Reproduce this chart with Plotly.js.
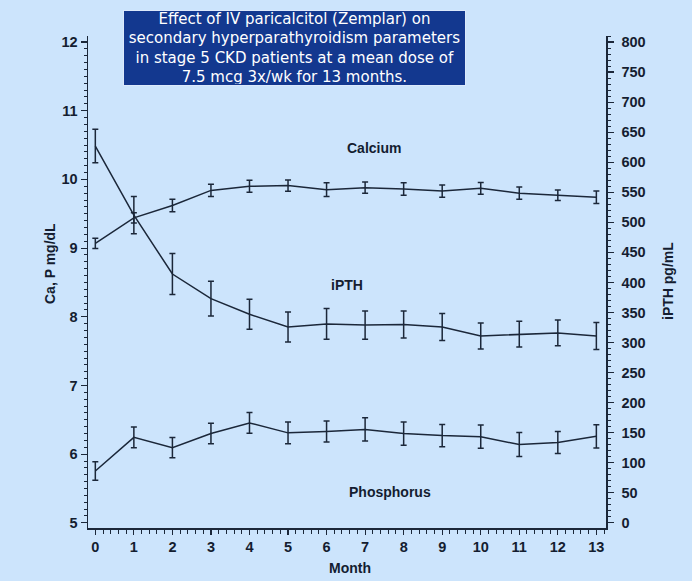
<!DOCTYPE html>
<html><head><meta charset="utf-8">
<script src="https://cdn.plot.ly/plotly-3.0.1.min.js"></script>
<style>html,body{margin:0;padding:0;background:#cce4fc;}</style>
</head><body><div id="chart" style="width:692px;height:581px;"></div>
<script>
const months = [0,1,2,3,4,5,6,7,8,9,10,11,12,13];
const calcium = [9.07, 9.44, 9.62, 9.84, 9.90, 9.91, 9.85, 9.88, 9.86, 9.83, 9.87, 9.80, 9.77, 9.74];
const calciumErr = [0.075, 0.075, 0.09, 0.09, 0.088, 0.083, 0.10, 0.083, 0.09, 0.09, 0.085, 0.09, 0.077, 0.092];
const ipth = [627, 512, 414, 373, 347, 326, 331, 329, 330, 326, 311, 314, 316, 311];
const ipthErr = [28, 31, 34, 29, 25, 25, 25.5, 23.6, 22.5, 22.5, 21.6, 21.6, 21.4, 22.5];
const phosphorus = [5.755, 6.245, 6.095, 6.30, 6.455, 6.31, 6.33, 6.36, 6.30, 6.27, 6.255, 6.14, 6.17, 6.26];
const phosphorusErr = [0.134, 0.15, 0.146, 0.15, 0.15, 0.158, 0.153, 0.17, 0.17, 0.163, 0.168, 0.175, 0.16, 0.17];
const titleLines = ["Effect of IV paricalcitol (Zemplar) on", "secondary hyperparathyroidism parameters", "in stage 5 CKD patients at a mean dose of", "7.5 mcg 3x/wk for 13 months."];
const seriesLabels = ["Calcium", "iPTH", "Phosphorus"];
const leftTitle = "Ca, P mg/dL";
const rightTitle = "iPTH pg/mL";
const xTitle = "Month";

const ink = '#1b2739';
const tickFont = {family: 'Liberation Sans, Arial, sans-serif', size: 14.5, color: '#141d30', weight: 'bold'};
const labelFont = {family: 'Liberation Sans, Arial, sans-serif', size: 14, color: '#141d30', weight: 'bold'};
const lineStyle = {color: ink, width: 1.5};
function err(arr){ return {type:'data', array: arr, visible: true, color: ink, thickness: 1.5, width: 3}; }

const traces = [
  {x: months, y: calcium, error_y: err(calciumErr), mode: 'lines', line: lineStyle, yaxis: 'y', name: seriesLabels[0]},
  {x: months, y: phosphorus, error_y: err(phosphorusErr), mode: 'lines', line: lineStyle, yaxis: 'y', name: seriesLabels[2]},
  {x: months, y: ipth, error_y: err(ipthErr), mode: 'lines', line: lineStyle, yaxis: 'y2', name: seriesLabels[1]}
];

const yLo = 4.925, yHi = 12.088;
const axisCommon = {showgrid: false, zeroline: false, showline: true, linecolor: ink, linewidth: 1.5,
  ticks: 'outside', tickcolor: ink, tickwidth: 1.2, tickfont: tickFont};

const layout = {
  width: 692, height: 581,
  paper_bgcolor: '#cce4fc', plot_bgcolor: '#cce4fc',
  margin: {l: 88, r: 86, t: 36, b: 53},
  showlegend: false,
  xaxis: Object.assign({}, axisCommon, {range: [-0.19, 13.25], tickmode: 'array', tickvals: months, ticktext: months.map(String), ticklen: 5,
    minor: {dtick: 0.2, tick0: 0, ticklen: 4, ticks: 'outside', tickcolor: ink, tickwidth: 1}}),
  yaxis: Object.assign({}, axisCommon, {range: [yLo, yHi], dtick: 1, tick0: 0, ticklen: 6,
    minor: {dtick: 0.1, tick0: 0, ticklen: 3, ticks: 'outside', tickcolor: ink, tickwidth: 1}}),
  yaxis2: Object.assign({}, axisCommon, {overlaying: 'y', side: 'right', range: [(yLo-5)*800/7, (yHi-5)*800/7], dtick: 50, tick0: 0, ticklen: 6, ticklabelstandoff: 5,
    minor: {dtick: 10, tick0: 0, ticklen: 3, ticks: 'outside', tickcolor: ink, tickwidth: 1}}),
  annotations: [
    {xref: 'paper', yref: 'paper', x: 0.3987, y: 0.9756, xanchor: 'center', yanchor: 'middle', showarrow: false,
     text: titleLines.join('<br>'), font: {family: 'DejaVu Sans, Verdana, sans-serif', size: 15, color: '#ffffff'},
     bgcolor: '#13388f', bordercolor: '#dce9fb', borderwidth: 1, borderpad: 1, width: 339, height: 72, align: 'center'},
    {xref: 'x', yref: 'y', x: 7.24, y: 10.456, text: seriesLabels[0], showarrow: false, font: labelFont},
    {xref: 'x', yref: 'y', x: 6.54, y: 8.46, text: seriesLabels[1], showarrow: false, font: labelFont},
    {xref: 'x', yref: 'y', x: 7.65, y: 5.445, text: seriesLabels[2], showarrow: false, font: labelFont},
    {xref: 'paper', yref: 'paper', x: (50-88)/518, y: (528-264)/492, text: leftTitle, textangle: -90, showarrow: false, font: labelFont, xanchor: 'center', yanchor: 'middle'},
    {xref: 'paper', yref: 'paper', x: (668-88)/518, y: (528-281)/492, text: rightTitle, textangle: -90, showarrow: false, font: labelFont, xanchor: 'center', yanchor: 'middle'},
    {xref: 'paper', yref: 'paper', x: (350-88)/518, y: (528-568)/492, text: xTitle, showarrow: false, font: labelFont, xanchor: 'center', yanchor: 'middle'}
  ]
};

Plotly.newPlot('chart', traces, layout, {displayModeBar: false, staticPlot: true});
</script></body></html>
